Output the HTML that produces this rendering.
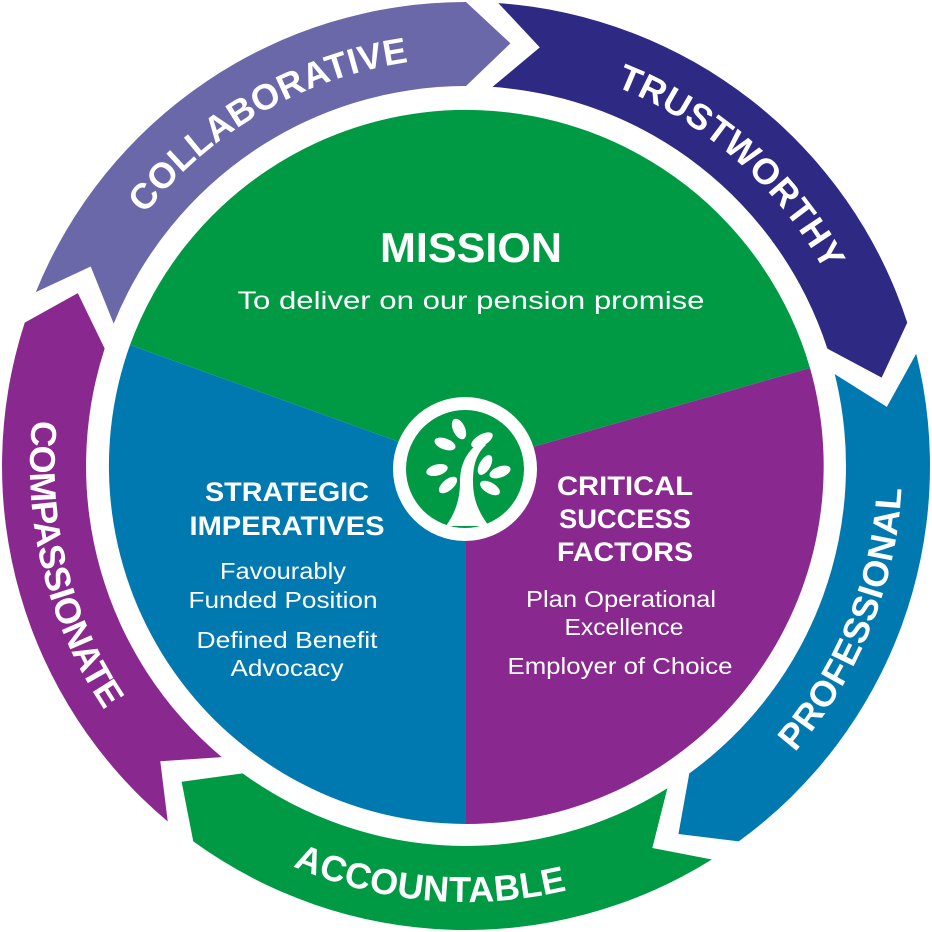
<!DOCTYPE html>
<html><head><meta charset="utf-8"><style>
html,body{margin:0;padding:0;background:#fff;width:932px;height:932px;overflow:hidden;}
svg{display:block;}
text{font-family:"Liberation Sans",sans-serif;fill:#fff;}
</style></head><body>
<svg width="932" height="932" viewBox="0 0 932 932" xmlns="http://www.w3.org/2000/svg">
<defs>
<path id="seg" d="M466,2 A464,464 0 0 1 896.2,292.2 L874.5,348.9 L818.3,323.7 A380,380 0 0 0 466,86 L510.4,43.3 Z"/>
<path id="cwp" d="M112.7,262 A408,408 0 0 1 819.3,262"/>
<path id="ccwp" d="M88.4,684 A436,436 0 0 0 843.6,684"/>
</defs>
<rect width="932" height="932" fill="#fff"/>
<use href="#seg" fill="#6b68a9" transform="rotate(292 466 466)"/>
<use href="#seg" fill="#2e2a84" transform="rotate(4 466 466)"/>
<use href="#seg" fill="#0079b1" transform="rotate(76 466 466)"/>
<use href="#seg" fill="#009a44" transform="rotate(148 466 466)"/>
<use href="#seg" fill="#89288e" transform="rotate(220 466 466)"/>
<g transform="rotate(-30 466 466)"><text font-size="36" font-weight="bold"><textPath href="#cwp" startOffset="50%" text-anchor="middle" textLength="312" lengthAdjust="spacing">COLLABORATIVE</textPath></text></g>
<g transform="rotate(41.5 466 466)"><text font-size="36" font-weight="bold"><textPath href="#cwp" startOffset="50%" text-anchor="middle" textLength="285" lengthAdjust="spacing">TRUSTWORTHY</textPath></text></g>
<g transform="rotate(-68 466 466)"><text font-size="36" font-weight="bold"><textPath href="#ccwp" startOffset="50%" text-anchor="middle" textLength="290" lengthAdjust="spacing">PROFESSIONAL</textPath></text></g>
<g transform="rotate(5 466 466)"><text font-size="36" font-weight="bold"><textPath href="#ccwp" startOffset="50%" text-anchor="middle" textLength="280" lengthAdjust="spacing">ACCOUNTABLE</textPath></text></g>
<g transform="rotate(76 466 466)"><text font-size="36" font-weight="bold"><textPath href="#ccwp" startOffset="50%" text-anchor="middle" textLength="305" lengthAdjust="spacing">COMPASSIONATE</textPath></text></g>
<path d="M466,466 L130,345 A358,358 0 0 1 810,368 Z" fill="#009a44"/>
<path d="M466,466 L466,824 A358,358 0 0 1 130,345 Z" fill="#0079b1"/>
<path d="M466,466 L810,368 A358,358 0 0 1 466,824 Z" fill="#89288e"/>
<circle cx="465" cy="469" r="72" fill="#fff"/>
<circle cx="465" cy="469" r="59" fill="#009a44"/>
<path d="M446,526 C456,512 460,498 460,482 C460,464 467,450 482,441 L486,445 C475,455 473,468 473,482 C473,498 478,512 489,526 Z" fill="#fff"/>
<g fill="#fff">
<ellipse cx="459" cy="429" rx="11" ry="6" transform="rotate(65 459 429)"/>
<ellipse cx="445" cy="444" rx="11" ry="5.5" transform="rotate(20 445 444)"/>
<ellipse cx="437" cy="470" rx="11" ry="5.5" transform="rotate(-15 437 470)"/>
<ellipse cx="448" cy="485" rx="11" ry="5.5" transform="rotate(-40 448 485)"/>
<ellipse cx="482" cy="440" rx="12" ry="5.5" transform="rotate(-30 482 440)"/>
<ellipse cx="485" cy="465" rx="11" ry="5.5" transform="rotate(-60 485 465)"/>
<ellipse cx="500" cy="472" rx="11" ry="5.5" transform="rotate(-20 500 472)"/>
<ellipse cx="490" cy="488" rx="11" ry="5.5" transform="rotate(30 490 488)"/>
</g>
<text x="471" y="262" font-size="42" font-weight="bold" text-anchor="middle" textLength="182" lengthAdjust="spacingAndGlyphs">MISSION</text>
<text x="471" y="309" font-size="25" text-anchor="middle" textLength="467" lengthAdjust="spacingAndGlyphs">To deliver on our pension promise</text>
<text x="287" y="501" font-size="27" font-weight="bold" text-anchor="middle" textLength="164" lengthAdjust="spacingAndGlyphs">STRATEGIC</text>
<text x="287" y="535" font-size="27" font-weight="bold" text-anchor="middle" textLength="195" lengthAdjust="spacingAndGlyphs">IMPERATIVES</text>
<text x="283" y="579" font-size="23" text-anchor="middle" textLength="126" lengthAdjust="spacingAndGlyphs">Favourably</text>
<text x="283" y="608" font-size="23" text-anchor="middle" textLength="189" lengthAdjust="spacingAndGlyphs">Funded Position</text>
<text x="287" y="648" font-size="23" text-anchor="middle" textLength="181" lengthAdjust="spacingAndGlyphs">Defined Benefit</text>
<text x="287" y="676" font-size="23" text-anchor="middle" textLength="113" lengthAdjust="spacingAndGlyphs">Advocacy</text>
<text x="557" y="495" font-size="27" font-weight="bold" textLength="136" lengthAdjust="spacingAndGlyphs">CRITICAL</text>
<text x="559" y="528" font-size="27" font-weight="bold" textLength="132" lengthAdjust="spacingAndGlyphs">SUCCESS</text>
<text x="557" y="561" font-size="27" font-weight="bold" textLength="136" lengthAdjust="spacingAndGlyphs">FACTORS</text>
<text x="621" y="607" font-size="23" text-anchor="middle" textLength="190" lengthAdjust="spacingAndGlyphs">Plan Operational</text>
<text x="624" y="635" font-size="23" text-anchor="middle" textLength="119" lengthAdjust="spacingAndGlyphs">Excellence</text>
<text x="620" y="674" font-size="23" text-anchor="middle" textLength="225" lengthAdjust="spacingAndGlyphs">Employer of Choice</text>
</svg>
</body></html>
